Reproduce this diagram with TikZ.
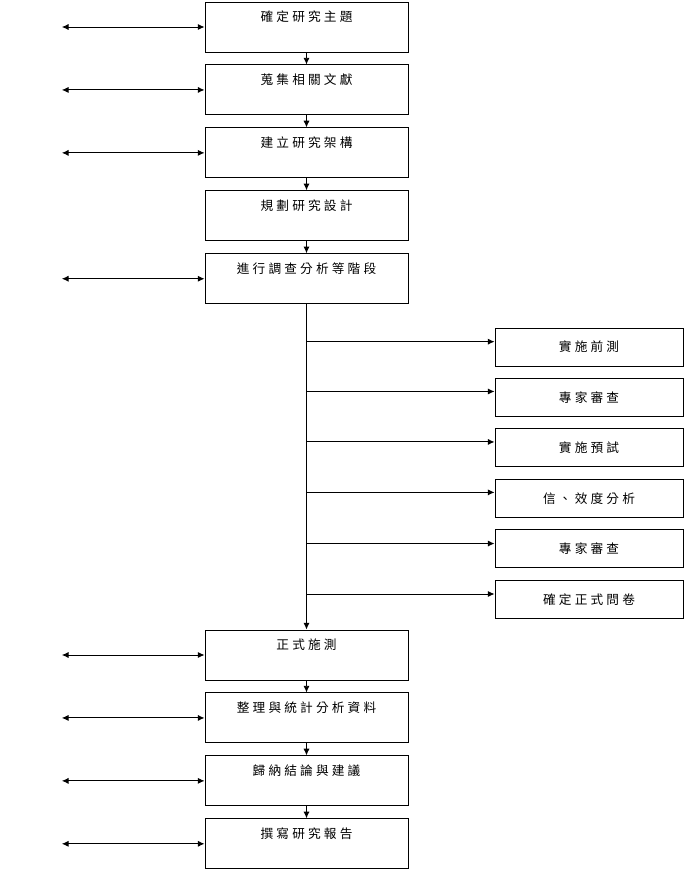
\documentclass[tikz,border=0pt]{standalone}
\usepackage{fontspec}
\newfontfamily\cjk{Noto Sans CJK TC}[LetterSpace=25]
\usetikzlibrary{arrows.meta, positioning}

\begin{document}
\begin{tikzpicture}[x=0.75pt, y=-0.75pt, node distance=9pt, line width=0.7pt,
  >={Latex[length=5pt,width=4.6pt]},
  stage/.style={draw, minimum width=152.25pt, minimum height=37.5pt, inner sep=0pt,
    text depth=16pt, font=\cjk\fontsize{9.5}{11}\selectfont},
  sub/.style={draw, minimum width=141pt, minimum height=28.5pt, inner sep=0pt,
    font=\cjk\fontsize{9.5}{11}\selectfont}]
  \useasboundingbox (0,0) rectangle (687,872);

  \node [stage] (topic) at (306.5,27) {確定研究主題};
  \node [stage, below=of topic] (lit) {蒐集相關文獻};
  \node [stage, below=of lit] (frame) {建立研究架構};
  \node [stage, below=of frame] (plan) {規劃研究設計};
  \node [stage, below=of plan] (survey) {進行調查分析等階段};

  \node [sub] (pre) at (589,347) {實施前測};
  \node [sub, below=8.65pt of pre] (exp1) {專家審查};
  \node [sub, below=8.65pt of exp1] (pilot) {實施預試};
  \node [sub, below=8.65pt of pilot] (valid) {信、效度分析};
  \node [sub, below=8.65pt of valid] (exp2) {專家審查};
  \node [sub, below=8.65pt of exp2] (final) {確定正式問卷};

  \node [stage] (formal) at (306.5,655) {正式施測};
  \node [stage, below=of formal] (stats) {整理與統計分析資料};
  \node [stage, below=of stats] (concl) {歸納結論與建議};
  \node [stage, below=of concl] (report) {撰寫研究報告};

  \draw [->] (topic) -- (lit);
  \draw [->] (lit) -- (frame);
  \draw [->] (frame) -- (plan);
  \draw [->] (plan) -- (survey);
  \draw [->] (survey) -- (formal);
  \draw [->] (formal) -- (stats);
  \draw [->] (stats) -- (concl);
  \draw [->] (concl) -- (report);

  \coordinate (b1) at ([yshift=4pt]pre.west);
  \coordinate (b2) at ([yshift=4.5pt]exp1.west);
  \coordinate (b3) at ([yshift=4.5pt]pilot.west);
  \coordinate (b4) at ([yshift=4.5pt]valid.west);
  \coordinate (b5) at ([yshift=4pt]exp2.west);
  \coordinate (b6) at ([yshift=4pt]final.west);
  \draw [->] (survey.south |- b1) -- (b1);
  \draw [->] (survey.south |- b2) -- (b2);
  \draw [->] (survey.south |- b3) -- (b3);
  \draw [->] (survey.south |- b4) -- (b4);
  \draw [->] (survey.south |- b5) -- (b5);
  \draw [->] (survey.south |- b6) -- (b6);

  \coordinate (e1) at ([xshift=-107pt]topic.west);
  \coordinate (e2) at ([xshift=-107pt]lit.west);
  \coordinate (e3) at ([xshift=-107pt]frame.west);
  \coordinate (e4) at ([xshift=-107pt]survey.west);
  \coordinate (e5) at ([xshift=-107pt]formal.west);
  \coordinate (e6) at ([xshift=-107pt]stats.west);
  \coordinate (e7) at ([xshift=-107pt]concl.west);
  \coordinate (e8) at ([xshift=-107pt]report.west);
  \draw [<->] (e1) -- (topic);
  \draw [<->] (e2) -- (lit);
  \draw [<->] (e3) -- (frame);
  \draw [<->] (e4) -- (survey);
  \draw [<->] (e5) -- (formal);
  \draw [<->] (e6) -- (stats);
  \draw [<->] (e7) -- (concl);
  \draw [<->] (e8) -- (report);
\end{tikzpicture}
\end{document}
